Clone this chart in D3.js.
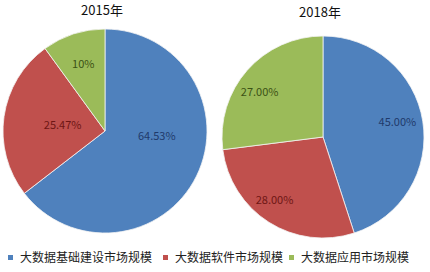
<!DOCTYPE html>
<html><head><meta charset="utf-8">
<script src="https://cdn.jsdelivr.net/npm/d3@7"></script>
<style>body{margin:0;background:#fff}svg{display:block}</style>
</head><body>
<svg id="c" width="430" height="272"></svg>
<script>
const categories = ["大数据基础建设市场规模","大数据软件市场规模","大数据应用市场规模"];
const years = ["2015年","2018年"];
const values2015 = [64.53, 25.47, 10];
const values2018 = [45, 28, 27];
const labels2015 = ["64.53%","25.47%","10%"];
const labels2018 = ["45.00%","28.00%","27.00%"];

const colors = ["#4F81BD","#C0504D","#9BBB59"];
const labelColors = ["#1F3A6B","#6E1614","#3B5215"];
const font = "'Noto Sans CJK SC','Noto Sans',sans-serif";

const svg = d3.select("#c");
const pies = [
  {title: years[0], values: values2015, labels: labels2015, cx: 105, cy: 131, r: 102, ty: 15,
   lab: [[-20, 0.51],[0,0.42],[0,0.69]]},
  {title: years[1], values: values2018, labels: labels2018, cx: 323, cy: 137, r: 101, ty: 17,
   lab: [[-2, 0.75],[5,0.79],[-6,0.77]]}
];
const pie = d3.pie().sort(null).value(d => d);
pies.forEach(p => {
  const g = svg.append("g").attr("transform", `translate(${p.cx},${p.cy})`);
  const arc = d3.arc().innerRadius(0).outerRadius(p.r);
  const arcs = pie(p.values);
  g.selectAll("path").data(arcs).join("path")
    .attr("d", arc).attr("fill", (d,i) => colors[i])
    .attr("stroke", "#f4f4f4").attr("stroke-width", 0.8);
  g.selectAll("text.l").data(arcs).join("text").attr("class","l")
    .attr("transform", (d,i) => {
      const a = (d.startAngle + d.endAngle)/2 + p.lab[i][0]*Math.PI/180;
      const rr = p.lab[i][1]*p.r;
      return `translate(${rr*Math.sin(a)},${-rr*Math.cos(a)})`;
    })
    .attr("text-anchor","middle").attr("dy","0.35em")
    .attr("font-family", font).attr("font-size", 11)
    .attr("fill", (d,i) => labelColors[i])
    .text((d,i) => p.labels[i]);
  svg.append("text").attr("x", p.cx - 3).attr("y", p.ty)
    .attr("text-anchor","middle").attr("font-family", font).attr("font-size", 13)
    .attr("fill","#111").text(p.title);
});

// legend
const legX = [8, 163, 289];
const lg = svg.selectAll("g.leg").data(categories).join("g").attr("class","leg")
  .attr("transform", (d,i) => `translate(${legX[i]},258)`);
lg.append("rect").attr("x",0).attr("y",-3).attr("width",5).attr("height",5)
  .attr("fill", (d,i) => colors[i]);
lg.append("text").attr("x", 12).attr("dy","0.35em").attr("font-family", font)
  .attr("font-size", 12).attr("fill","#222").text(d => d);
</script>
</body></html>
